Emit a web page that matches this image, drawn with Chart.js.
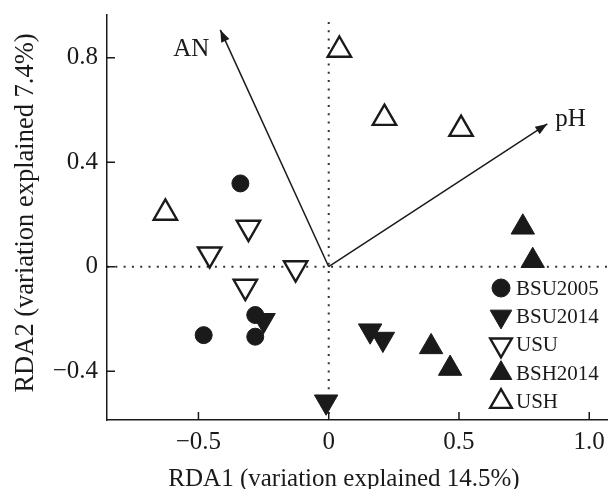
<!DOCTYPE html>
<html>
<head>
    <title>RDA biplot</title>
    <script src="https://cdn.jsdelivr.net/npm/chart.js@4.4.0/dist/chart.umd.min.js"></script>
    <style>
        body { margin: 0; background: #fff; }
    </style>
</head>
<body>
<canvas id="rdaChart" width="608" height="489"></canvas>

<script>
    // site scores on RDA1 / RDA2, one pair of arrays per group
    bsu2005X = [-0.339, -0.282, -0.282, -0.480];
    bsu2005Y = [0.319, -0.185, -0.268, -0.262];
    bsu2014X = [-0.250, -0.010, 0.159, 0.208];
    bsu2014Y = [-0.205, -0.517, -0.245, -0.277];
    usuX = [-0.308, -0.457, -0.127, -0.320];
    usuY = [0.150, 0.048, -0.005, -0.076];
    bsh2014X = [0.745, 0.783, 0.393, 0.466];
    bsh2014Y = [0.151, 0.023, -0.307, -0.390];
    ushX = [0.041, 0.214, 0.508, -0.627];
    ushY = [0.830, 0.569, 0.527, 0.206];

    // environmental vectors (tips, arrows start at origin)
    arrowNames = ['AN', 'pH'];
    arrowX = [-0.416, 0.839];
    arrowY = [0.907, 0.547];

    xTicks = [-0.5, 0, 0.5, 1.0];
    xTickLabels = ['\u22120.5', '0', '0.5', '1.0'];
    yTicks = [-0.4, 0, 0.4, 0.8];
    yTickLabels = ['\u22120.4', '0', '0.4', '0.8'];

    xTitle = 'RDA1 (variation explained 14.5%)';
    yTitle = 'RDA2 (variation explained 7.4%)';

    serif = "'Liberation Serif', 'Times New Roman', serif";
    ink = '#1a1a1a';

    function pts(xs, ys) {
        return xs.map((x, i) => ({ x: x, y: ys[i] }));
    }

    function group(label, xs, ys, style, rotation, filled, radius) {
        return {
            label: label,
            data: pts(xs, ys),
            pointStyle: style,
            rotation: rotation,
            radius: radius,
            backgroundColor: filled ? ink : '#ffffff',
            borderColor: ink,
            borderWidth: filled ? 1 : 2.4,
            clip: false,
            isGroup: true
        };
    }

    datasets = [
        group('BSU2005', bsu2005X, bsu2005Y, 'circle', 0, true, 8.5),
        group('BSU2014', bsu2014X, bsu2014Y, 'triangle', 180, true, 13.5),
        group('USU', usuX, usuY, 'triangle', 180, false, 13.5),
        group('BSH2014', bsh2014X, bsh2014Y, 'triangle', 0, true, 13.5),
        group('USH', ushX, ushY, 'triangle', 0, false, 13.5)
    ];

    arrowNames.forEach((name, i) => {
        datasets.push({
            type: 'line',
            label: name,
            data: [{ x: 0, y: 0 }, { x: arrowX[i], y: arrowY[i] }],
            borderColor: ink,
            borderWidth: 1.5,
            pointRadius: 0,
            clip: false,
            order: 10,
            isArrow: true
        });
    });

    // dotted zero lines, under everything
    zeroLines = {
        id: 'zeroLines',
        beforeDatasetsDraw(chart) {
            const c = chart.ctx, a = chart.chartArea;
            const x0 = chart.scales.x.getPixelForValue(0);
            const y0 = chart.scales.y.getPixelForValue(0);
            c.save();
            c.strokeStyle = '#333';
            c.lineWidth = 2;
            c.setLineDash([2, 6.3]);
            c.beginPath();
            c.moveTo(x0, a.top + 7);
            c.lineTo(x0, a.bottom);
            c.moveTo(a.left, y0);
            c.lineTo(a.right, y0);
            c.stroke();
            c.restore();
        }
    };

    // arrowheads, labels, inward ticks, axis titles, legend
    extras = {
        id: 'extras',
        afterDraw(chart) {
            const c = chart.ctx, a = chart.chartArea;
            const xs = chart.scales.x, ys = chart.scales.y;
            c.save();

            // arrowheads + names
            c.fillStyle = ink;
            arrowNames.forEach((name, i) => {
                const tx = xs.getPixelForValue(arrowX[i]);
                const ty = ys.getPixelForValue(arrowY[i]);
                const ox = xs.getPixelForValue(0), oy = ys.getPixelForValue(0);
                const ang = Math.atan2(ty - oy, tx - ox);
                c.save();
                c.translate(tx, ty);
                c.rotate(ang);
                c.beginPath();
                c.moveTo(0, 0);
                c.lineTo(-12, -4.5);
                c.lineTo(-12, 4.5);
                c.closePath();
                c.fill();
                c.restore();

                c.font = '25px ' + serif;
                c.textBaseline = 'middle';
                if (tx < ox) {
                    c.textAlign = 'center';
                    c.fillText(name, tx - 29, ty + 20);
                } else {
                    c.textAlign = 'left';
                    c.fillText(name, tx + 8, ty - 4);
                }
            });

            // tick marks pointing into the plot
            c.strokeStyle = ink;
            c.lineWidth = 1.5;
            c.beginPath();
            xTicks.forEach(v => {
                const px = xs.getPixelForValue(v);
                c.moveTo(px, a.bottom);
                c.lineTo(px, a.bottom - 8);
            });
            yTicks.forEach(v => {
                const py = ys.getPixelForValue(v);
                c.moveTo(a.left, py);
                c.lineTo(a.left + 8, py);
            });
            c.stroke();

            // axis titles
            c.fillStyle = ink;
            c.textAlign = 'center';
            c.textBaseline = 'alphabetic';
            c.font = '25px ' + serif;
            c.fillText(xTitle, 344, 486);
            c.save();
            c.font = '26.5px ' + serif;
            c.translate(33, 213);
            c.rotate(-Math.PI / 2);
            c.fillText(yTitle, 0, 0);
            c.restore();

            // legend in the lower right of the plot
            const lx = a.right - 107;
            let ly = a.bottom - 132;
            chart.data.datasets.filter(d => d.isGroup).forEach(d => {
                c.fillStyle = d.backgroundColor;
                c.strokeStyle = d.borderColor;
                c.lineWidth = d.borderWidth;
                Chart.helpers.drawPoint(c, {
                    pointStyle: d.pointStyle,
                    rotation: d.rotation,
                    radius: d.pointStyle === 'circle' ? 9 : 12.5,
                    borderWidth: d.borderWidth
                }, lx, ly);
                c.fillStyle = ink;
                c.font = '21px ' + serif;
                c.textAlign = 'left';
                c.textBaseline = 'middle';
                c.fillText(d.label, lx + 15, ly + 1);
                ly += 28.4;
            });

            c.restore();
        }
    };

    rdaChart = new Chart(document.getElementById('rdaChart'), {
        type: 'scatter',
        data: { datasets: datasets },
        options: {
            responsive: false,
            animation: false,
            devicePixelRatio: 1,
            layout: {
                autoPadding: false,
                padding: { top: 15, right: 0, left: 0, bottom: 0 }
            },
            plugins: {
                legend: { display: false },
                tooltip: { enabled: false }
            },
            scales: {
                x: {
                    type: 'linear',
                    min: -0.851,
                    max: 1.072,
                    afterBuildTicks: axis => { axis.ticks = xTicks.map(v => ({ value: v })); },
                    afterFit: axis => {
                        axis.height = 69;
                        axis.paddingLeft = 0;
                        axis.paddingRight = 0;
                    },
                    grid: { display: false, drawTicks: false },
                    border: { display: true, color: ink, width: 1.5 },
                    ticks: {
                        autoSkip: false,
                        maxRotation: 0,
                        padding: 7,
                        color: ink,
                        font: { family: serif, size: 25 },
                        callback: v => xTickLabels[xTicks.indexOf(v)]
                    }
                },
                y: {
                    type: 'linear',
                    min: -0.587,
                    max: 0.964,
                    afterBuildTicks: axis => { axis.ticks = yTicks.map(v => ({ value: v })); },
                    afterFit: axis => {
                        axis.width = 107;
                        axis.paddingTop = 0;
                        axis.paddingBottom = 0;
                    },
                    grid: { display: false, drawTicks: false },
                    border: { display: true, color: ink, width: 1.5 },
                    ticks: {
                        autoSkip: false,
                        padding: 9,
                        color: ink,
                        font: { family: serif, size: 25 },
                        callback: v => yTickLabels[yTicks.indexOf(v)]
                    }
                }
            }
        },
        plugins: [zeroLines, extras]
    });
</script>
</body>
</html>
